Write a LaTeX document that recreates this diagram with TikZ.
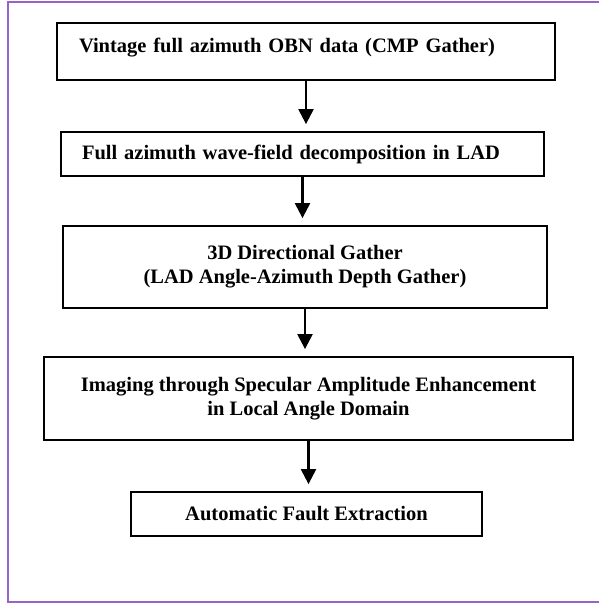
\documentclass[tikz,border=0pt]{standalone}
\usepackage{fontspec}
\setmainfont{Liberation Serif}
\usetikzlibrary{arrows.meta}
\definecolor{framepurple}{RGB}{150,100,200}

\begin{document}
\begin{tikzpicture}[x=1pt,y=-1pt,
    stepbox/.style={draw,line width=1.8pt,inner sep=0pt,align=center,
      font=\fontsize{20.5}{24}\selectfont\bfseries},
    flow/.style={line width=2.2pt,-{Triangle[length=15pt,width=15pt]},shorten >=7pt}]
  \useasboundingbox (0,0) rectangle (599,603);
  \draw[framepurple,line width=2pt] (601,2) -- (8,2) -- (8,602) -- (601,602);

  \node[stepbox,align=left,minimum width=498pt,minimum height=57pt,inner xsep=22pt,
    text width=454pt,text height=14pt,text depth=13pt] (obn) at (306,51.5)
    {Vintage full azimuth OBN data (CMP Gather)};
  \node[stepbox,align=left,minimum width=483pt,minimum height=44pt,inner xsep=21pt,
    text width=441pt] (wfd) at (302.5,154)
    {Full azimuth wave-field decomposition in LAD};
  \node[stepbox,minimum width=484pt,minimum height=82pt] (dirg) at (305,267)
    {3D Directional Gather\\(LAD Angle-Azimuth Depth Gather)};
  \node[stepbox,minimum width=529pt,minimum height=83pt] (sae) at (308.5,398.5)
    {Imaging through Specular Amplitude Enhancement\\in Local Angle Domain};
  \node[stepbox,minimum width=351pt,minimum height=44pt] (fault) at (306.5,514)
    {Automatic Fault Extraction};

  \draw[flow] (obn.south) -- (obn.south |- wfd.north);
  \draw[flow] (wfd.south) -- (wfd.south |- dirg.north);
  \draw[flow] (dirg.south) -- (dirg.south |- sae.north);
  \draw[flow] (sae.south) -- (sae.south |- fault.north);
\end{tikzpicture}
\end{document}
